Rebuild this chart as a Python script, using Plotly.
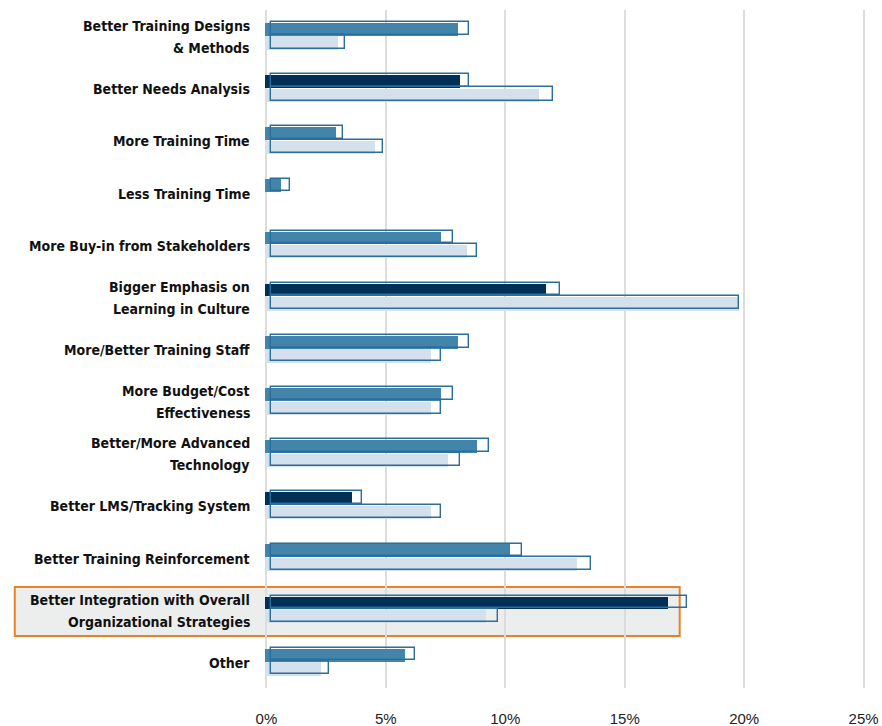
import plotly.graph_objects as go

categories = [
    "Better Training Designs<br>& Methods",
    "Better Needs Analysis",
    "More Training Time",
    "Less Training Time",
    "More Buy-in from Stakeholders",
    "Bigger Emphasis on<br>Learning in Culture",
    "More/Better Training Staff",
    "More Budget/Cost<br>Effectiveness",
    "Better/More Advanced<br>Technology",
    "Better LMS/Tracking System",
    "Better Training Reinforcement",
    "Better Integration with Overall<br>Organizational Strategies",
    "Other",
]
top_fill = [8.0, 8.1, 2.9, 0.6, 7.3, 11.7, 8.0, 7.3, 8.8, 3.6, 10.2, 16.8, 5.8]
top_outline = [8.5, 8.5, 3.2, 1.0, 7.8, 12.3, 8.5, 7.8, 9.3, 4.0, 10.7, 17.6, 6.2]
bottom_fill = [3.0, 11.4, 4.55, None, 8.4, 19.8, 6.9, 6.9, 7.6, 6.9, 13.0, 9.2, 2.3]
bottom_outline = [3.3, 12.0, 4.9, None, 8.8, 19.8, 7.3, 7.3, 8.1, 7.3, 13.6, 9.7, 2.6]
highlight = [False, True, False, False, False, True, False, False, False, True, False, True, False]
x_ticks = [0, 5, 10, 15, 20, 25]
x_ticktext = ["0%", "5%", "10%", "15%", "20%", "25%"]

MID = "#4384ab"
DARK = "#022f55"
LIGHT = "#d4e1ed"
EDGE = "#2a6e9b"
FILL_BASE = -0.06
OUT_BASE = 0.18
LABEL_FONT = dict(family="DejaVu Sans Condensed, Liberation Sans Narrow, Arial Narrow, sans-serif",
                  size=14, color="#111")

idx = list(range(len(categories)))


def lengths(vals, base):
    return [None if v is None else v - base for v in vals]


fig = go.Figure()
fig.add_trace(go.Bar(
    orientation="h", y=[i - 0.13 for i in idx], x=lengths(top_fill, FILL_BASE), base=FILL_BASE,
    width=0.245, marker=dict(color=[DARK if h else MID for h in highlight], line=dict(width=0)),
    hoverinfo="skip", showlegend=False))
fig.add_trace(go.Bar(
    orientation="h", y=[i + 0.135 for i in idx], x=lengths(bottom_fill, FILL_BASE), base=FILL_BASE,
    width=0.255, marker=dict(color=LIGHT, line=dict(width=0)),
    hoverinfo="skip", showlegend=False))
fig.add_trace(go.Bar(
    orientation="h", y=[i - 0.148 for i in idx], x=lengths(top_outline, OUT_BASE), base=OUT_BASE,
    width=0.24, marker=dict(color="rgba(0,0,0,0)", line=dict(color=EDGE, width=1.4)),
    hoverinfo="skip", showlegend=False))
fig.add_trace(go.Bar(
    orientation="h", y=[i + 0.112 for i in idx], x=lengths(bottom_outline, OUT_BASE), base=OUT_BASE,
    width=0.255, marker=dict(color="rgba(0,0,0,0)", line=dict(color=EDGE, width=1.4)),
    hoverinfo="skip", showlegend=False))

fig.add_shape(type="rect", xref="paper", yref="paper", x0=-0.414, x1=0.6905, y0=0.0767, y1=0.149,
              line=dict(color="#e8822a", width=2), fillcolor="#eceeed", layer="below")

# category labels, one annotation per line for wider line spacing
for i, cat in enumerate(categories):
    lines = cat.split("<br>")
    if len(lines) == 1:
        shifts = [-1]
    else:
        shifts = [10, -12]
    for line, ys in zip(lines, shifts):
        fig.add_annotation(xref="paper", yref="y", x=0, y=i, xshift=-12.5, yshift=ys,
                           xanchor="right", yanchor="middle", showarrow=False,
                           text="<b>%s</b>" % line, font=LABEL_FONT)

fig.update_layout(
    width=882, height=726,
    margin=dict(l=263.6, r=15.6, t=10, b=38, autoexpand=False),
    paper_bgcolor="white", plot_bgcolor="rgba(0,0,0,0)",
    barmode="overlay", bargap=0,
    xaxis=dict(range=[-0.1, 25.1], tickvals=x_ticks, ticktext=x_ticktext, automargin=False,
               showgrid=True, gridcolor="#dcdcdc", gridwidth=1.5, zeroline=False,
               showline=False, ticks="outside", ticklen=17, tickcolor="rgba(0,0,0,0)",
               tickfont=dict(family="Liberation Sans, Arial, sans-serif", size=15, color="#222")),
    yaxis=dict(range=[12.5, -0.5], tickvals=idx, showticklabels=False, automargin=False,
               showgrid=False, zeroline=False, showline=False, ticks=""),
)

fig.write_html("out.html")
